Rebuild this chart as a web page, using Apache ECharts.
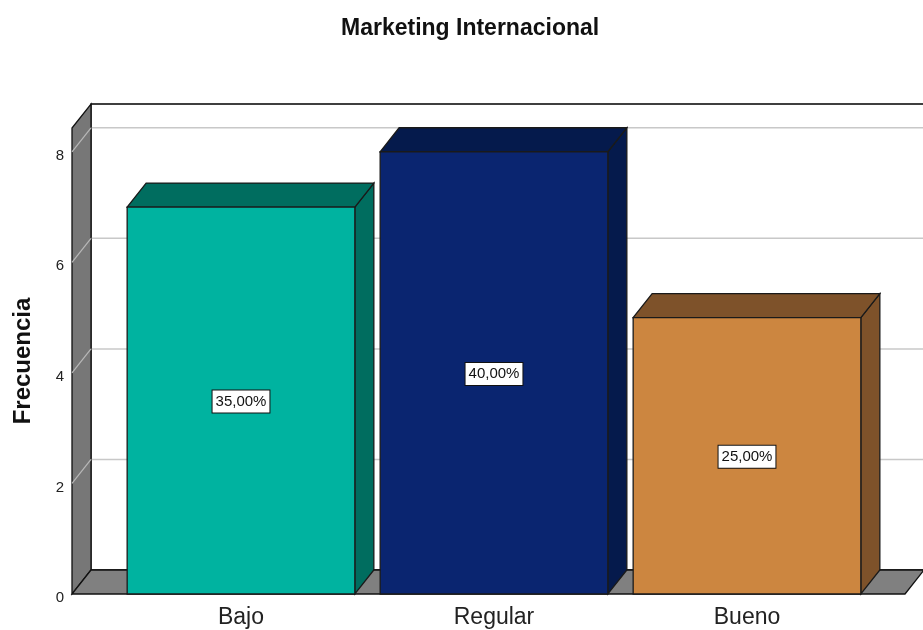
<!DOCTYPE html>
<html>
<head>
<meta charset="utf-8">
<title>Marketing Internacional</title>
<script src="https://cdn.jsdelivr.net/npm/echarts@6/dist/echarts.min.js"></script>
<style>
  html, body { margin: 0; padding: 0; background: #ffffff; }
  #chart { width: 923px; height: 630px; }
</style>
</head>
<body>
<div id="chart"></div>
<script>
// Frequency table for "Marketing Internacional"
const categories = ['Bajo', 'Regular', 'Bueno'];
const frecuencias = [7, 8, 5];
const yTicks = [0, 2, 4, 6, 8];

// Face colours: front face, then darker top/side faces
const frontColors = ['#00b3a0', '#0a2570', '#cc8640'];
const shadeColors = ['#006d5f', '#051a4c', '#7e522a'];

const total = frecuencias.reduce((a, b) => a + b, 0);
const pctLabel = v => (v / total * 100).toFixed(2).replace('.', ',') + '%';

// Pseudo-3D depth of the box (pixels)
const DX = 19, DY = -24;
const FONT = '"Liberation Sans", Arial, sans-serif';

const chart = echarts.init(document.getElementById('chart'));

function renderWalls(params, api) {
  const cs = params.coordSys;
  const y0 = api.coord([0, 0])[1];
  const yTop = cs.y;
  const xL = cs.x - 42.5;                 // front edge of the left wall
  const xR = cs.x + cs.width + 31.5;      // front right end of the floor
  const backR = 960;
  const children = [];
  // back wall
  children.push({
    type: 'rect',
    shape: { x: xL + DX, y: yTop + DY, width: backR - xL, height: y0 - yTop },
    style: { fill: '#ffffff', stroke: '#000000', lineWidth: 1.3 }
  });
  // grid lines on back wall and left wall
  yTicks.forEach(t => {
    if (t === 0) return;
    const y = api.coord([0, t])[1];
    children.push({
      type: 'line',
      shape: { x1: xL + DX, y1: y + DY, x2: backR, y2: y + DY },
      style: { stroke: '#c8c8c8', lineWidth: 1.5 }
    });
  });
  // left wall
  children.push({
    type: 'polygon',
    shape: { points: [[xL, y0], [xL, yTop], [xL + DX, yTop + DY], [xL + DX, y0 + DY]] },
    style: { fill: '#777777', stroke: '#111111', lineWidth: 1.3 }
  });
  yTicks.forEach(t => {
    if (t === 0) return;
    const y = api.coord([0, t])[1];
    children.push({
      type: 'line',
      shape: { x1: xL, y1: y, x2: xL + DX, y2: y + DY },
      style: { stroke: '#b8b8b8', lineWidth: 1.2 }
    });
  });
  // floor
  children.push({
    type: 'polygon',
    shape: { points: [[xL, y0], [xR, y0], [xR + DX, y0 + DY], [xL + DX, y0 + DY]] },
    style: { fill: '#808080', stroke: '#111111', lineWidth: 1.3 }
  });
  return { type: 'group', children: children };
}

function renderBar(params, api) {
  const idx = api.value(0);
  const val = api.value(1);
  const top = api.coord([idx, val]);
  const base = api.coord([idx, 0]);
  const band = api.size([1, 0])[0];
  const w = band * 0.9;
  const x1 = top[0] - w / 2, x2 = top[0] + w / 2;
  const yT = top[1], yB = base[1];
  const stroke = { stroke: '#1a1a1a', lineWidth: 1.3 };
  return {
    type: 'group',
    children: [
      { type: 'polygon',
        shape: { points: [[x2, yB], [x2, yT], [x2 + DX, yT + DY], [x2 + DX, yB + DY]] },
        style: Object.assign({ fill: shadeColors[idx] }, stroke) },
      { type: 'polygon',
        shape: { points: [[x1, yT], [x2, yT], [x2 + DX, yT + DY], [x1 + DX, yT + DY]] },
        style: Object.assign({ fill: shadeColors[idx] }, stroke) },
      { type: 'rect',
        shape: { x: x1, y: yT, width: w, height: yB - yT },
        style: Object.assign({ fill: frontColors[idx] }, stroke) },
      { type: 'text',
        x: top[0], y: (yT + yB) / 2 + 1,
        style: {
          text: pctLabel(val),
          fill: '#111111',
          font: '15px ' + FONT,
          align: 'center', verticalAlign: 'middle',
          backgroundColor: '#ffffff',
          borderColor: '#111111', borderWidth: 1,
          padding: [4, 3, 3, 3]
        } }
    ]
  };
}

chart.setOption({
  animation: false,
  backgroundColor: '#ffffff',
  title: {
    text: 'Marketing Internacional',
    left: 336, top: 12,
    textStyle: { fontFamily: FONT, fontSize: 23, fontWeight: 'bold', color: '#111111' }
  },
  grid: { left: 114.5, right: 49.5, top: 128, bottom: 36 },
  xAxis: {
    type: 'category',
    data: categories,
    axisLine: { show: false },
    axisTick: { show: false },
    axisLabel: { fontFamily: FONT, fontSize: 23, color: '#222222', margin: 12 }
  },
  yAxis: {
    type: 'value',
    min: 0, max: 8.43, interval: 2,
    offset: 42.5,
    name: 'Frecuencia',
    nameLocation: 'middle',
    nameGap: 37,
    nameTextStyle: { fontFamily: FONT, fontSize: 24, fontWeight: 'bold', color: '#111111' },
    axisLine: { show: false },
    axisTick: { show: false },
    splitLine: { show: false },
    axisLabel: { fontFamily: FONT, fontSize: 15, color: '#222222', margin: 8,
                 verticalAlign: 'top', lineHeight: 8, showMaxLabel: false }
  },
  series: [
    { type: 'custom', renderItem: renderWalls, data: [[0, 0]], z: 1, silent: true },
    { type: 'custom', renderItem: renderBar,
      data: frecuencias.map((v, i) => [i, v]), z: 2 }
  ]
});
</script>
</body>
</html>
